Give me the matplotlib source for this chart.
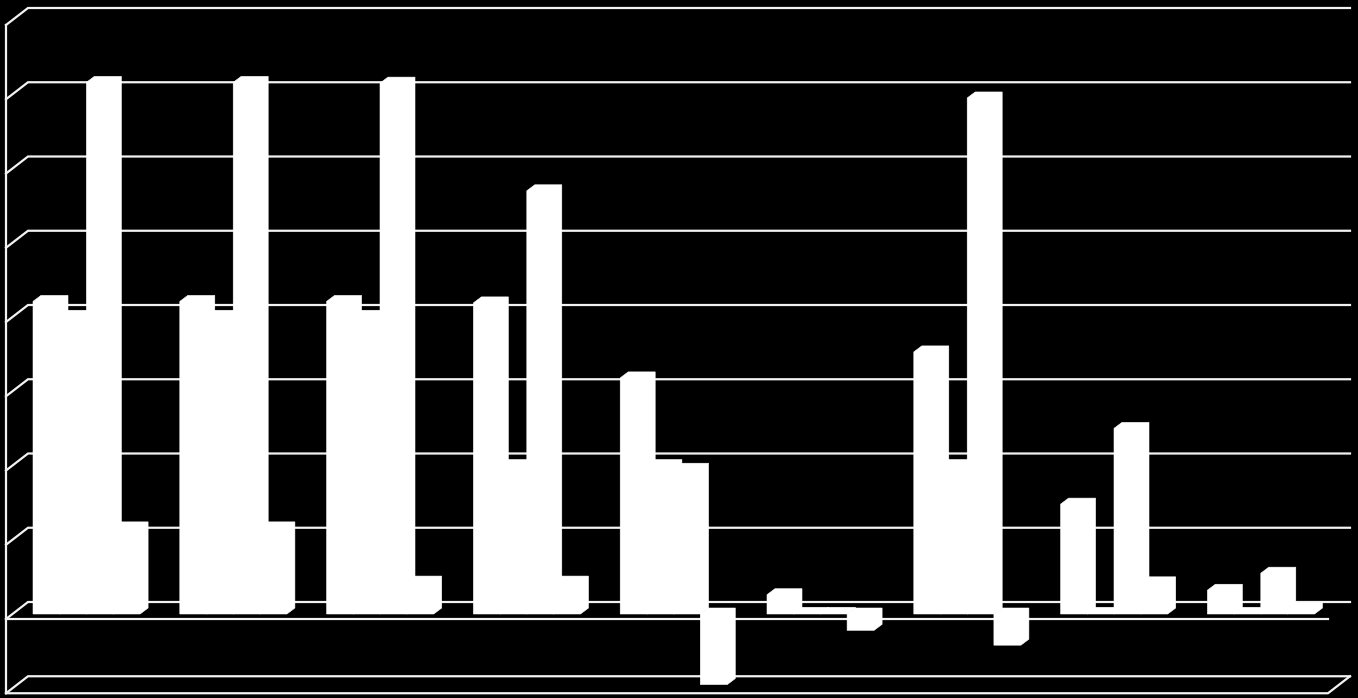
import matplotlib
matplotlib.use('Agg')
import matplotlib.pyplot as plt

# values, one list per series
series_a = [4.21, 4.21, 4.21, 4.19, 3.18, 0.26, 3.53, 1.48, 0.32]
series_b = [4.01, 4.01, 4.01, 2.00, 2.00, 0.01, 2.00, 0.01, 0.01]
series_c = [7.16, 7.16, 7.15, 5.70, 1.95, 0.01, 6.95, 2.50, 0.55]
series_d = [1.16, 1.16, 0.43, 0.43, -0.95, -0.22, -0.42, 0.42, 0.07]
grid_values = [-1, 0, 1, 2, 3, 4, 5, 6, 7, 8]

# one pixel in data units
PX_X = 1 / 146.8
PX_Y = 1 / 74.25

fig = plt.figure(figsize=(13.58, 6.98), dpi=100, facecolor='black')
ax = fig.add_axes([0, 0, 1, 1])
ax.set_facecolor('black')
ax.set_xlim(-33 * PX_X, 1325 * PX_X)
ax.set_ylim(-96 * PX_Y, 8 + 8 * PX_Y)
ax.axis('off')

LINE = '#f2f2f2'
# back of the wall and the side offset to the front
left = -5 * PX_X
right = 1317 * PX_X
wall_dx = 22 * PX_X
wall_dy = 17 * PX_Y

# back gridlines with their slanted part on the left wall
for v in grid_values:
    ax.plot([left - wall_dx, left, right], [v - wall_dy, v, v], color=LINE, lw=1.6,
            solid_joinstyle='miter', zorder=1)

# left edge, floor and zero line at the front
ax.plot([left - wall_dx, left - wall_dx], [8 - wall_dy, -1 - wall_dy], color=LINE, lw=1.6, zorder=1)
ax.plot([left - wall_dx, right - wall_dx, right], [-1 - wall_dy, -1 - wall_dy, -1], color=LINE, lw=1.6, zorder=1)
ax.plot([left - wall_dx, right - wall_dx], [-wall_dy, -wall_dy], color=LINE, lw=1.6, zorder=1)

# 3d columns
step = 26.7 * PX_X
width = 27 * PX_X
depth_x = 8 * PX_X
depth_y = 6 * PX_Y
base = -12 * PX_Y  # front foot of a column, below the back zero line


def draw_column(x, value):
    # a hexagon: front face plus the top and side seen in depth
    if value >= 0:
        low = base
        high = value + base
    else:
        low = base + value
        high = base
    xs = [x, x + depth_x, x + width + depth_x, x + width + depth_x, x + width, x]
    ys = [high, high + depth_y, high + depth_y, low + depth_y, low, low]
    ax.fill(xs, ys, facecolor='white', edgecolor='white', lw=0.4, zorder=3)


for j, series in enumerate([series_a, series_b, series_c, series_d]):
    for i, value in enumerate(series):
        draw_column(i + j * step, value)

fig.savefig('out.png', dpi=100, facecolor='black')
